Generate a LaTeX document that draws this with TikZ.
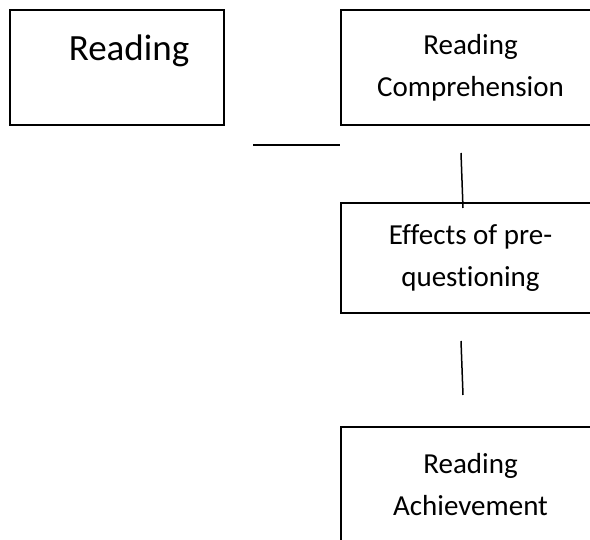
\documentclass[tikz,border=0pt]{standalone}
\usepackage{fontspec}
\setmainfont[Ligatures={NoCommon}]{Carlito}
\usepackage{tikz}
\usetikzlibrary{positioning, calc}

\tikzset{
  box/.style={rectangle, draw, line width=1.3pt, align=center, inner sep=0pt,
    font=\fontsize{29}{42}\selectfont},
  link/.style={line width=1.5pt}
}

\begin{document}
\begin{tikzpicture}[x=1pt, y=-1pt]
        \clip (0,0) rectangle (590,540);
        \node (Read) [box, minimum width=214pt, minimum height=115pt, font=\fontsize{37}{39}\selectfont] at (117,67.5) {\hspace{24pt}Reading\\~};
        \node (Comp) [box, minimum width=259pt, minimum height=115pt] at (470.5,67.5) {Reading\\Comprehension};
        \node (Effect) [box, minimum width=259pt, minimum height=110pt] at (470.5,258) {Effects of pre-\\questioning};
        \node (Achieve) [box, minimum width=259pt, minimum height=116pt] at (470.5,485) {Reading\\Achievement};

        \coordinate (h1) at (253,145);
        \coordinate (h2) at (Comp.south west |- h1);
        \coordinate (v1) at (461,153);
        \coordinate (v2) at (463,208);
        \coordinate (v3) at (461,341);
        \coordinate (v4) at (463,395);

        \draw[link] (h1) -- (h2);
        \draw[link] (v1) -- (v2);
        \draw[link] (v3) -- (v4);
    \end{tikzpicture}
\end{document}
